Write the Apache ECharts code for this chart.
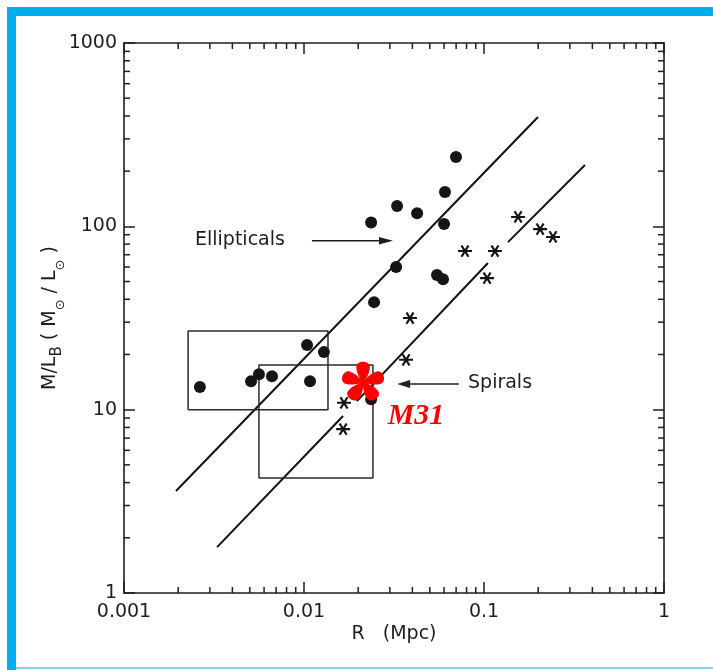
<!DOCTYPE html>
<html><head><meta charset="utf-8">
<script src="https://cdn.jsdelivr.net/npm/echarts@6/dist/echarts.min.js"></script>
<style>html,body{margin:0;padding:0;background:#fff}#chart{width:713px;height:670px}</style>
</head><body><div id="chart"></div>
<script>
// ---------- data ----------
const xTickLabels = ['0.001', '0.01', '0.1', '1'];
const yTickLabels = ['1', '10', '100', '1000'];
const minorMultipliers = [2, 3, 4, 5, 6, 7, 8, 9];
const decadesX = [0.001, 0.01, 0.1];
const decadesY = [1, 10, 100];

const ellipticalsR  = [0.00264, 0.00508, 0.00562, 0.00664, 0.0104, 0.0108, 0.0129, 0.0236, 0.0245, 0.0236, 0.0329, 0.0425, 0.0699, 0.0607, 0.0600, 0.0325, 0.0548, 0.0592];
const ellipticalsML = [13.3, 14.3, 15.6, 15.2, 22.5, 14.3, 20.6, 11.4, 38.6, 105, 129, 118, 239, 154, 103, 60, 54.2, 51.5];

const spiralsR  = [0.1546, 0.205, 0.2417, 0.0784, 0.115, 0.104, 0.0388, 0.0369, 0.01668, 0.0165];
const spiralsML = [112.5, 96.6, 87.5, 73.3, 73.3, 52.2, 31.6, 18.7, 10.9, 7.83];

const m31R  = [0.0213];
const m31ML = [14.3];

const ellipticalFitR  = [0.001945, 0.1995];
const ellipticalFitML = [3.6, 395];
// spiral fit line drawn in pieces (null = gap)
const spiralFitR  = [0.00329, 0.01648, null, 0.01968, 0.1052, null, 0.1359, 0.364];
const spiralFitML = [1.778, 9.23, null, 11.14, 63.1, null, 82.0, 216];

const box1R = [0.00227, 0.01359], box1ML = [10.0, 26.9];
const box2R = [0.00562, 0.02416], box2ML = [4.24, 17.5];

// ---------- helpers ----------
const INK = '#1e1e1e';
const FONT = '"DejaVu Sans", sans-serif';

function pairs(xs, ys) { return xs.map((x, i) => [x, ys[i]]); }
function segments(xs, ys) {
  const segs = []; let cur = [];
  xs.forEach((x, i) => {
    if (x === null) { if (cur.length) segs.push(cur); cur = []; }
    else cur.push([x, ys[i]]);
  });
  if (cur.length) segs.push(cur);
  return segs;
}
function boxData(rs, ms) {
  return [[rs[0], ms[0]], [rs[1], ms[0]], [rs[1], ms[1]], [rs[0], ms[1]], [rs[0], ms[0]]];
}
function asteriskPath() {
  const w = 0.08; let d = '';
  [0, 60, 120].forEach(deg => {
    const a = deg * Math.PI / 180, ca = Math.cos(a), sa = Math.sin(a);
    const p = [[-0.5, -w], [0.5, -w], [0.5, w], [-0.5, w]].map(([x, y]) => (x * ca - y * sa).toFixed(3) + ' ' + (x * sa + y * ca).toFixed(3));
    d += 'M' + p[0] + 'L' + p[1] + 'L' + p[2] + 'L' + p[3] + 'Z';
  });
  return 'path://' + d;
}
function petalStarPath(n, rot) {
  let d = '';
  for (let k = 0; k < n; k++) {
    const a = rot + k * 2 * Math.PI / n, ca = Math.cos(a), sa = Math.sin(a);
    const T = (x, y) => (x * ca - y * sa).toFixed(3) + ' ' + (x * sa + y * ca).toFixed(3);
    d += 'M' + T(0, 0) +
         'C' + T(0.12, -0.1) + ' ' + T(0.45, -0.33) + ' ' + T(0.78, -0.32) +
         'C' + T(1.1, -0.3) + ' ' + T(1.1, 0.3) + ' ' + T(0.78, 0.32) +
         'C' + T(0.45, 0.33) + ' ' + T(0.12, 0.1) + ' ' + T(0, 0) + 'Z';
  }
  return 'path://' + d;
}

function renderMinorTicks(params, api) {
  const cs = params.coordSys, L = 6, ch = [];
  const ln = (x1, y1, x2, y2) => ({ type: 'line', shape: { x1, y1, x2, y2 }, style: { stroke: INK, lineWidth: 1.5 } });
  decadesX.forEach(d => minorMultipliers.forEach(m => {
    const px = api.coord([d * m, 10])[0];
    ch.push(ln(px, cs.y + cs.height, px, cs.y + cs.height - L));
    ch.push(ln(px, cs.y, px, cs.y + L));
  }));
  decadesY.forEach(d => minorMultipliers.forEach(m => {
    const py = api.coord([0.01, d * m])[1];
    ch.push(ln(cs.x, py, cs.x + L, py));
    ch.push(ln(cs.x + cs.width, py, cs.x + cs.width - L, py));
  }));
  return { type: 'group', children: ch };
}

function arrow(ch, from, to, head, halfW) {
  const dx = to[0] - from[0], dy = to[1] - from[1], len = Math.hypot(dx, dy), ux = dx / len, uy = dy / len;
  const bx = to[0] - ux * head, by = to[1] - uy * head;
  ch.push({ type: 'line', shape: { x1: from[0], y1: from[1], x2: bx, y2: by }, style: { stroke: INK, lineWidth: 1.6 } });
  ch.push({ type: 'polygon', shape: { points: [to, [bx - uy * halfW, by + ux * halfW], [bx + uy * halfW, by - ux * halfW]] }, style: { fill: INK } });
}

function renderAnnotations(params, api) {
  const ch = [];
  let p = api.coord([0.00248, 84]);
  ch.push({ type: 'text', x: p[0], y: p[1], style: { text: 'Ellipticals', fill: INK, font: '19px ' + FONT, align: 'left', verticalAlign: 'middle' } });
  arrow(ch, api.coord([0.01107, 83.5]), api.coord([0.0312, 83.5]), 14, 3.8);
  arrow(ch, api.coord([0.0726, 13.8]), api.coord([0.0329, 13.8]), 13, 4);
  p = api.coord([0.0815, 13.9]);
  ch.push({ type: 'text', x: p[0], y: p[1], style: { text: 'Spirals', fill: INK, font: '19px ' + FONT, align: 'left', verticalAlign: 'middle' } });
  p = api.coord([0.0419, 9.2]);
  ch.push({ type: 'text', x: p[0], y: p[1], style: { text: 'M31', fill: '#ff0000', font: 'italic bold 30px "Liberation Serif", serif', align: 'center', verticalAlign: 'middle' } });
  return { type: 'group', children: ch };
}

// ---------- chart ----------
const chart = echarts.init(document.getElementById('chart'), null, { renderer: 'canvas' });
const axisLineStyle = { color: INK, width: 1.6 };
const tickStyle = { color: INK, width: 1.5 };
const xLabelFmt = v => xTickLabels[Math.round(Math.log10(v)) + 3];
const yLabelFmt = v => yTickLabels[Math.round(Math.log10(v))];

const lineStyle = { color: '#111', width: 2 };
const boxStyle = { color: '#2a2a2a', width: 1.5 };

const series = [
  { type: 'line', data: pairs(ellipticalFitR, ellipticalFitML), symbol: 'none', lineStyle, z: 2 },
  ...segments(spiralFitR, spiralFitML).map(seg => ({ type: 'line', data: seg, symbol: 'none', lineStyle, z: 2 })),
  { type: 'line', data: boxData(box1R, box1ML), symbol: 'none', lineStyle: boxStyle, z: 2 },
  { type: 'line', data: boxData(box2R, box2ML), symbol: 'none', lineStyle: boxStyle, z: 2 },
  { type: 'scatter', name: 'Ellipticals', data: pairs(ellipticalsR, ellipticalsML), symbol: 'circle', symbolSize: 12, itemStyle: { color: '#151515', opacity: 1 }, z: 3 },
  { type: 'scatter', name: 'Spirals', data: pairs(spiralsR, spiralsML), symbol: asteriskPath(), symbolKeepAspect: true, symbolSize: [14, 13], itemStyle: { color: '#151515', opacity: 1 }, z: 3 },
  { type: 'custom', data: [[0.01, 10]], renderItem: renderMinorTicks, clip: false, silent: true, z: 4 },
  { type: 'custom', data: [[0.01, 10]], renderItem: renderAnnotations, clip: false, silent: true, z: 5 },
  { type: 'scatter', name: 'M31', data: pairs(m31R, m31ML), symbol: petalStarPath(5, -Math.PI / 2), symbolKeepAspect: true, symbolSize: [42, 40], itemStyle: { color: '#ff0000', opacity: 1 }, z: 6 }
];

chart.setOption({
  animation: false,
  backgroundColor: '#ffffff',
  grid: { left: 124, right: 49, top: 43, bottom: 77 },
  xAxis: [
    { type: 'log', logBase: 10, min: 0.001, max: 1, position: 'bottom',
      axisLine: { lineStyle: axisLineStyle }, axisTick: { inside: true, length: 11, lineStyle: tickStyle },
      splitLine: { show: false },
      axisLabel: { formatter: xLabelFmt, color: INK, fontSize: 19, fontFamily: FONT, margin: 10 },
      name: 'R   (Mpc)', nameLocation: 'middle', nameGap: 32, nameMoveOverlap: false,
      nameTextStyle: { color: INK, fontSize: 19, fontFamily: FONT } },
    { type: 'log', logBase: 10, min: 0.001, max: 1, position: 'top',
      axisLine: { lineStyle: axisLineStyle }, axisTick: { inside: true, length: 11, lineStyle: tickStyle },
      splitLine: { show: false }, axisLabel: { show: false } }
  ],
  yAxis: [
    { type: 'log', logBase: 10, min: 1, max: 1000, position: 'left',
      axisLine: { lineStyle: axisLineStyle }, axisTick: { inside: true, length: 11, lineStyle: tickStyle },
      splitLine: { show: false },
      axisLabel: { formatter: yLabelFmt, color: INK, fontSize: 19, fontFamily: FONT, margin: 7 },
      name: '{m|M/L}{b|B}{m| ( M}{s|⊙}{m| / L}{s|⊙}{m| )}', nameLocation: 'middle', nameRotate: 90, nameGap: 55, nameMoveOverlap: false,
      nameTextStyle: { rich: {
        m: { fontSize: 19, fontFamily: FONT, color: INK, lineHeight: 28, verticalAlign: 'top' },
        b: { fontSize: 15, fontFamily: FONT, color: INK, lineHeight: 20, height: 32, verticalAlign: 'top' },
        s: { fontSize: 13, fontFamily: FONT, color: INK, lineHeight: 20, height: 40, verticalAlign: 'top' }
      } } },
    { type: 'log', logBase: 10, min: 1, max: 1000, position: 'right',
      axisLine: { lineStyle: axisLineStyle }, axisTick: { inside: true, length: 11, lineStyle: tickStyle },
      splitLine: { show: false }, axisLabel: { show: false } }
  ],
  graphic: [
    { type: 'rect', shape: { x: 7, y: 7, width: 9, height: 663 }, style: { fill: '#00AEEF' }, silent: true },
    { type: 'rect', shape: { x: 7, y: 7, width: 706, height: 9 }, style: { fill: '#00AEEF' }, silent: true },
    { type: 'rect', shape: { x: 16, y: 667, width: 697, height: 2 }, style: { fill: '#86CFF2' }, silent: true }
  ],
  series
});
</script>
</body></html>
